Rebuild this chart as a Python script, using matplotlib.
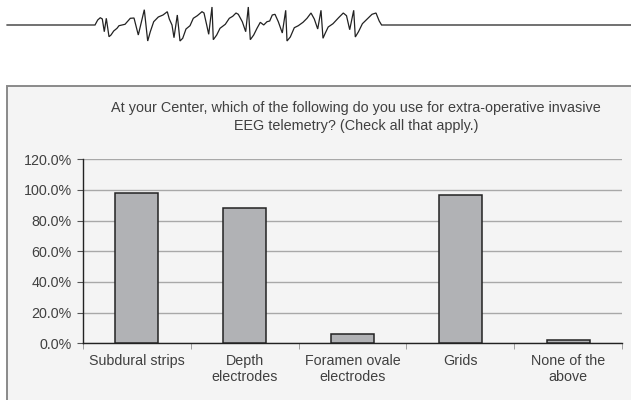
import matplotlib
matplotlib.use("Agg")
import matplotlib.pyplot as plt
from matplotlib.patches import Rectangle
from matplotlib.ticker import FuncFormatter, FixedLocator

categories = ["Subdural strips", "Depth\nelectrodes", "Foramen ovale\nelectrodes", "Grids", "None of the\nabove"]
values = [98.0, 88.4, 6.3, 96.9, 2.0]
yticks = [0, 20, 40, 60, 80, 100, 120]
title = "At your Center, which of the following do you use for extra-operative invasive\nEEG telemetry? (Check all that apply.)"

# decorative EEG trace (pixel coordinates of the header ornament)
eeg_x = [7, 95, 97.7, 100.3, 102.3, 104.3, 106.3, 109, 111, 113.7, 117, 119, 125, 130.3, 134, 138.3, 144.3, 147.7,
         150.3, 153.7, 158.3, 163, 164.7, 167.3, 169.3, 172, 174, 177.3, 180, 182.7, 186, 190, 193.3, 197.3, 202,
         204, 206.7, 208.7, 212, 213.3, 216.7, 220, 225.3, 229.3, 232.7, 236, 238.3, 242.3, 245.7, 248.3, 250.3,
         253.7, 257, 260.3, 263.7, 267, 269.7, 272.3, 275, 278.3, 282.3, 285.7, 287, 290.3, 294.3, 298.3, 303,
         307, 311, 314.3, 317.7, 321, 323, 325, 328.2, 333, 338.6, 343.3, 346.5, 349.7, 353.7, 355.3, 358.5,
         362.4, 367.2, 372, 376, 379.2, 381.6, 631]
eeg_y = [25, 25, 20, 17.7, 19, 31.7, 18.3, 36.7, 35, 31, 28.3, 25.7, 24.3, 18.3, 18, 35, 9.7, 41,
         31.7, 21.7, 17, 15, 13.7, 11.7, 19, 25, 37.7, 15, 41, 38.3, 29, 25.7, 18.3, 15.7, 11.7,
         13, 25, 34.3, 7, 39.7, 35, 28.3, 24.3, 18.3, 16.3, 13, 14.3, 21.7, 31.7, 7, 39.7,
         35, 28.3, 22.3, 25, 21.7, 21, 15, 14.3, 21.7, 33, 10.3, 41, 37, 27.7, 25.7, 22.3,
         18.3, 13, 19, 29, 10.3, 38.3, 33.7, 27, 23.7, 17.7, 13, 15.7, 29.7, 10.3, 37, 31.7,
         23.7, 19, 14.3, 13, 21, 25, 25]

W, H = 631, 400
fig = plt.figure(figsize=(W / 100, H / 100), dpi=100)
fig.patch.set_facecolor("white")
plt.rcParams['font.family'] = ['Liberation Sans', 'DejaVu Sans']

# overlay axes in pixel coordinates for decorations
deco = fig.add_axes([0, 0, 1, 1], zorder=0)
deco.set_xlim(0, W)
deco.set_ylim(H, 0)
deco.axis("off")
deco.add_patch(Rectangle((7, 86), W + 10, H, facecolor="#f4f4f4", edgecolor="#8a8a8a", linewidth=1.4))
deco.plot(eeg_x, eeg_y, color="#222222", linewidth=0.9, solid_joinstyle="miter")

text_color = "#404040"
fig.text(356 / W, 1 - 117 / H, title, ha="center", va="center", fontsize=10.4, color=text_color,
         linespacing=1.35)

ax = fig.add_axes([83 / W, 1 - 343.3 / H, (622 - 83) / W, (343.3 - 159.3) / H], zorder=1)
ax.set_facecolor("none")
x = list(range(len(categories)))
ax.bar(x, values, width=0.4, color="#b1b2b5", edgecolor="#222222", linewidth=1.1, zorder=3)
ax.set_xlim(-0.5, len(categories) - 0.5)
ax.set_ylim(0, 120)
ax.set_yticks(yticks)
ax.yaxis.set_major_formatter(FuncFormatter(lambda v, p: f"{v:.1f}%"))
ax.yaxis.grid(True, color="#a8a8a8", linewidth=1.0, zorder=0)
ax.set_axisbelow(True)
ax.set_xticks(x)
ax.set_xticklabels(categories, linespacing=1.15)
ax.xaxis.set_minor_locator(FixedLocator([i - 0.5 for i in range(len(categories) + 1)]))
ax.tick_params(axis="x", which="major", length=0, pad=8, labelsize=10.3, labelcolor=text_color)
ax.tick_params(axis="x", which="minor", length=4, color="#909090", direction="out")
ax.tick_params(axis="y", length=4, color="#555555", labelsize=10.3, labelcolor=text_color, pad=4)
for s in ["top", "right"]:
    ax.spines[s].set_visible(False)
ax.spines["left"].set_color("#222222")
ax.spines["bottom"].set_color("#222222")
ax.spines["left"].set_linewidth(1.0)
ax.spines["bottom"].set_linewidth(1.0)

fig.savefig("out.png", dpi=100)
